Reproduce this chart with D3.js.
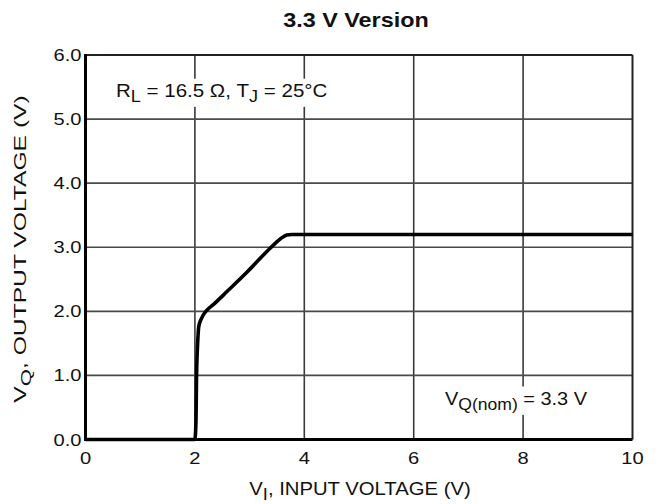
<!DOCTYPE html>
<html>
<head>
<meta charset="utf-8">
<script src="https://cdn.jsdelivr.net/npm/d3@7"></script>
<style>
body { margin: 0; background: #fff; }
text { font-family: "Liberation Sans", Arial, Helvetica, sans-serif; fill: #111; }
</style>
</head>
<body>
<script>
"use strict";

// curve: input voltage (V) vs output voltage (V)
var vIn  = [0, 2.00, 2.02, 2.03, 2.04, 2.05, 2.07, 2.11, 2.22, 2.33, 2.6,  2.95, 3.37, 3.56, 3.68, 3.77, 10];
var vOut = [0, 0,    0.3,  1.0,  1.3,  1.5,  1.76, 1.87, 2.02, 2.10, 2.32, 2.61, 2.98, 3.13, 3.19, 3.2,  3.2];

var xTicks = [0, 2, 4, 6, 8, 10];
var yTicks = [0, 1, 2, 3, 4, 5, 6];

var width = 658, height = 504;

var svg = d3.select("body").append("svg")
    .attr("width", width)
    .attr("height", height);

var x = d3.scaleLinear().domain([0, 10]).range([85.5, 632.5]);
var y = d3.scaleLinear().domain([0, 6]).range([439.5, 55]);

// text helper: the original lettering is a bit stretched sideways,
// so every label gets its own horizontal scale (sx)
function label(parent, px, py, opts, parts) {
    var tr = "translate(" + px + "," + py + ")";
    if (opts.rotate) {
        tr += " rotate(" + opts.rotate + ")";
    }
    tr += " scale(" + (opts.sx || 1) + ",1)";
    var t = parent.append("text")
        .attr("transform", tr)
        .attr("text-anchor", opts.anchor || "start")
        .style("font-size", opts.size + "px");
    if (opts.bold) {
        t.style("font-weight", "bold");
    }
    parts.forEach(function(p) {
        var s = t.append("tspan").text(p[0]);
        if (p[1] == "sub") {
            s.attr("dy", opts.subDy).style("font-size", (opts.size * opts.subScale) + "px");
        } else if (p[1] == "up") {
            s.attr("dy", -opts.subDy);
        }
    });
    return t;
}

// grid
svg.append("g")
    .selectAll("line")
    .data(xTicks.slice(1, -1))
    .enter().append("line")
    .attr("x1", function(d) { return x(d); })
    .attr("x2", function(d) { return x(d); })
    .attr("y1", y(0))
    .attr("y2", y(6))
    .attr("stroke", "#3a3a3a")
    .attr("stroke-width", 1.6);

svg.append("g")
    .selectAll("line")
    .data(yTicks.slice(1, -1))
    .enter().append("line")
    .attr("x1", x(0))
    .attr("x2", x(10))
    .attr("y1", function(d) { return y(d); })
    .attr("y2", function(d) { return y(d); })
    .attr("stroke", "#4a4a4a")
    .attr("stroke-width", 1.6);

// annotations, white box behind them breaks the grid lines
function note(px, py, sx, parts) {
    var g = svg.append("g");
    var t = label(g, px, py, {size: 19, sx: sx, subDy: 5, subScale: 0.88}, parts);
    var bb = t.node().getBBox();
    g.insert("rect", "text")
        .attr("transform", t.attr("transform"))
        .attr("x", bb.x - 2)
        .attr("y", bb.y - 1)
        .attr("width", bb.width + 4)
        .attr("height", bb.height + 2)
        .attr("fill", "#fff");
}

note(116, 97, 1.08, [
    ["R"], ["L", "sub"], [" = 16.5 \u03A9, T", "up"], ["J", "sub"], [" = 25\u00B0C", "up"]
]);
note(445, 405, 1.05, [
    ["V"], ["Q(nom)", "sub"], [" = 3.3 V", "up"]
]);

// frame: top and right thinner
svg.append("line")
    .attr("x1", x(0)).attr("x2", x(10))
    .attr("y1", y(6)).attr("y2", y(6))
    .attr("stroke", "#222").attr("stroke-width", 2);
svg.append("line")
    .attr("x1", x(10)).attr("x2", x(10))
    .attr("y1", y(0)).attr("y2", y(6))
    .attr("stroke", "#222").attr("stroke-width", 2);

// curve
var line = d3.line()
    .x(function(d) { return x(d[0]); })
    .y(function(d) { return y(d[1]); })
    .curve(d3.curveMonotoneX);

svg.append("path")
    .datum(d3.zip(vIn, vOut))
    .attr("d", line)
    .attr("fill", "none")
    .attr("stroke", "#000")
    .attr("stroke-width", 3.6)
    .attr("stroke-linejoin", "round");

// heavy left and bottom axes
svg.append("line")
    .attr("x1", x(0) - 1.5).attr("x2", x(10))
    .attr("y1", y(0)).attr("y2", y(0))
    .attr("stroke", "#000").attr("stroke-width", 3.2);
svg.append("line")
    .attr("x1", x(0)).attr("x2", x(0))
    .attr("y1", y(0)).attr("y2", y(6) - 1)
    .attr("stroke", "#000").attr("stroke-width", 3);

// tick labels
xTicks.forEach(function(d) {
    label(svg, x(d), y(0) + 24, {size: 16.5, sx: 1.22, anchor: "middle"}, [[String(d)]]);
});
yTicks.forEach(function(d) {
    label(svg, x(0) - 4, y(d) + 6, {size: 16.5, sx: 1.22, anchor: "end"}, [[d.toFixed(1)]]);
});

// title
label(svg, 356, 27, {size: 19.5, sx: 1.2, anchor: "middle", bold: true}, [["3.3 V Version"]]);

// axis titles
label(svg, 360, 495, {size: 17.5, sx: 1.16, anchor: "middle", subDy: 5, subScale: 0.9}, [
    ["V"], ["I", "sub"], [", INPUT VOLTAGE (V)", "up"]
]);
label(svg, 25.5, 249, {size: 17, sx: 1.45, anchor: "middle", rotate: -90, subDy: 5, subScale: 0.9}, [
    ["V"], ["Q", "sub"], [", OUTPUT VOLTAGE (V)", "up"]
]);
</script>
</body>
</html>
